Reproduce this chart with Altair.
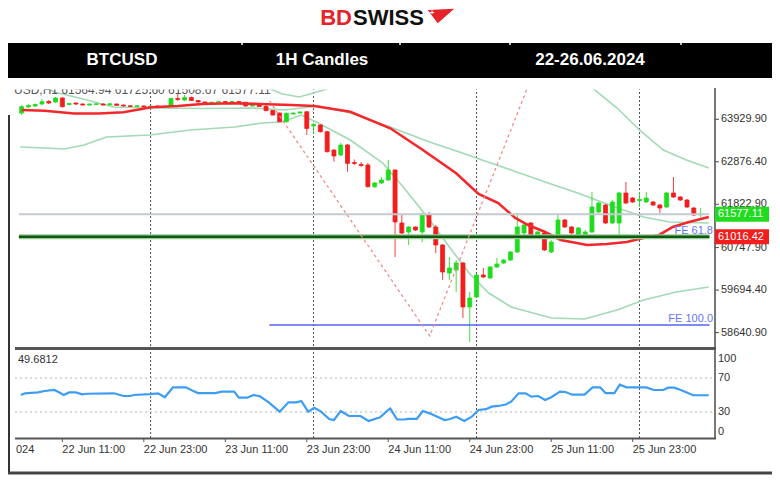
import altair as alt
import pandas as pd

# ---------------- data ----------------
# hour index: 0 = 22 Jun 2024 00:00
hours = list(range(5, 106))
opens = [64086, 64235, 64260, 64309, 64371, 64359, 64458, 64297, 64334, 64309,
         64284, 64297, 64309, 64289, 64309, 64284, 64265, 64247, 64260, 64235,
         64260, 64247, 64247, 64446, 64408, 64470, 64396, 64359, 64334, 64346,
         64371, 64351, 64371, 64346, 64260, 64309, 64247, 64148, 64086, 63870,
         64061, 64086, 64116, 63764, 63789, 63622, 63168, 63045, 63293, 62858,
         62809, 62797, 62258, 62350, 62425, 62673, 61358, 61135, 61259, 61135,
         61556, 61259, 60813, 60118, 60192, 60366, 59275, 59523, 60069, 59994,
         60267, 60366, 60440, 60639, 61110, 61358, 61011, 61110, 60639, 61011,
         61433, 61259, 61060, 61060, 61135, 61631, 61804, 61358, 61358, 62102,
         61978, 61916, 61879, 61879, 61804, 61755, 62102, 62003, 61928, 61730,
         61564.94]
closes = [64242, 64272, 64297, 64366, 64334, 64458, 64242, 64322, 64309, 64284,
          64309, 64314, 64284, 64314, 64277, 64260, 64247, 64265, 64235, 64255,
          64240, 64235, 64446, 64421, 64470, 64396, 64359, 64339, 64351, 64366,
          64351, 64371, 64334, 64260, 64284, 64247, 64143, 64036, 63870, 64078,
          64086, 64111, 63704, 63801, 63622, 63127, 63020, 63293, 62838, 62834,
          62784, 62258, 62350, 62425, 62673, 61383, 61110, 61259, 61184, 61556,
          61259, 60813, 60143, 60242, 60366, 59275, 59498, 60069, 60019, 60267,
          60341, 60440, 60639, 61259, 61308, 60986, 61135, 60689, 60887, 61433,
          61259, 61110, 61234, 61135, 61755, 61854, 61358, 61879, 62102, 61854,
          61879, 61941, 61978, 61804, 61730, 62102, 62003, 61928, 61755, 61556,
          61577.11]
highs = [64284, 64309, 64322, 64433, 64408, 64483, 64483, 64334, 64346, 64322,
         64322, 64330, 64322, 64326, 64320, 64296, 64277, 64277, 64272, 64267,
         64272, 64260, 64458, 64582, 64532, 64495, 64408, 64371, 64364, 64378,
         64383, 64383, 64383, 64371, 64297, 64322, 64284, 64160, 64098, 64098,
         64098, 64123, 64130, 63838, 63801, 63640, 63181, 63343, 63318, 62933,
         62871, 62846, 62375, 62499, 62921, 62685, 61556, 61284, 61271, 61606,
         61631, 61308, 60837, 60515, 60440, 60391, 59647, 60093, 60242, 60292,
         60490, 60465, 60664, 61606, 61358, 61383, 61160, 61135, 60936, 61581,
         61457, 61284, 61259, 61184, 62127, 61879, 61829, 61928, 62127, 62375,
         62003, 62127, 62127, 61904, 61829, 62127, 62499, 62028, 61953, 61755,
         61725.60]
lows = [64036, 64210, 64235, 64284, 64309, 64334, 64222, 64272, 64284, 64272,
        64272, 64285, 64272, 64277, 64265, 64247, 64235, 64235, 64222, 64222,
        64228, 64222, 64235, 64384, 64384, 64384, 64346, 64327, 64322, 64334,
        64339, 64339, 64322, 64247, 64247, 64235, 64136, 64024, 63862, 63850,
        64048, 64073, 63540, 63565, 63603, 63107, 62878, 63020, 62630, 62797,
        62747, 62239, 62226, 62325, 62400, 60515, 61085, 60813, 61160, 60887,
        61234, 60614, 59945, 59945, 59647, 59002, 58407, 59498, 59994, 59970,
        60242, 60341, 60416, 60614, 61036, 60961, 60986, 60664, 60614, 60986,
        61234, 61085, 61036, 61036, 61110, 61606, 61333, 61333, 61060, 61829,
        61854, 61755, 61854, 61780, 61606, 61730, 61978, 61904, 61730, 61532,
        61508.67]

# red moving average
ma_h = [5.0, 8.4, 12.7, 16.4, 20.0, 24.1, 28.0, 31.6, 36.0, 40.1, 44.7, 48.1, 53.4,
        59.3, 64.1, 69.0, 72.3, 75.2, 77.7, 79.6, 82.1, 84.4, 88.3, 91.2, 94.1,
        96.6, 98.9, 100.9, 103.3, 106.2]
ma_p = [64160, 64143, 64074, 64074, 64103, 64227, 64260, 64309, 64327, 64309, 64284,
        64260, 64118, 63707, 63168, 62591, 62077, 61854, 61482, 61308, 61135, 60936,
        60813, 60837, 60887, 60986, 61061, 61259, 61383, 61507]

# bollinger-type bands (light green); upper band is only visible in two pieces
bb_upper1_h = [40.6, 43.3, 45.9, 49.5, 51.3]
bb_upper1_p = [64756, 64565, 64483, 64657, 64756]
bb_upper2_h = [88.6, 89.4, 92.7, 96.0, 99.5, 102.9, 106.2]
bb_upper2_p = [64756, 64657, 64210, 63665, 63168, 62920, 62722]
bb_mid_h = [8.4, 9.8, 13.5, 16.7, 18.6, 24.4, 31.6, 38.9, 43.7, 46.2, 48.7, 53.4,
            59.3, 65.1, 69.9, 72.8, 77.1, 82.1, 86.9, 91.7, 96.6, 100.4, 106.2]
bb_mid_p = [64756, 64607, 64458, 64317, 64235, 64210, 64198, 64210, 64160, 64210,
            64260, 64086, 63739, 63367, 63094, 62920, 62673, 62375, 62102, 61800,
            61507, 61383, 61358]
bb_low_h = [4.8, 8.4, 11.3, 14.2, 17.5, 23.9, 29.8, 36.4, 40.4, 43.3, 46.2, 48.7,
            53.4, 58.2, 61.2, 65.1, 68.0, 70.9, 73.8, 77.1, 83.0, 87.9, 92.7, 96.6,
            101.4, 106.2]
bb_low_p = [63243, 63218, 63193, 63292, 63491, 63541, 63665, 63739, 63838, 63863,
            64036, 63838, 63416, 62846, 62251, 61432, 60763, 60118, 59622, 59275,
            59002, 58977, 59200, 59449, 59647, 59771]

# fibonacci expansion drawing (dotted)
fib_h = [41.5, 65.1, 79.6]
fib_p = [64384, 58556, 64756]

# RSI
rsi_h = [4.9, 5.5, 7.4, 8.4, 9.8, 10.3, 11.2, 12, 13, 13.9, 14.6, 18.6, 20, 21, 21.5,
         23.9, 25.1, 26.1, 27.3, 29.2, 30.2, 31, 33.5, 34.5, 36.3, 37, 38.2, 39.2,
         40.1, 41.4, 43, 44.3, 45.5, 46.2, 47.2, 48.1, 49.1, 50.3, 51, 52, 53.2,
         54.9, 56.1, 57.8, 59, 59.3, 60.3, 61.4, 61.9, 63.2, 64.1, 65.1, 67.3, 68,
         69, 70.2, 71.3, 72.3, 73.4, 74.2, 75.2, 76.3, 77.1, 78.2, 79.2, 80.1, 81.1,
         82.1, 83, 84.3, 85.1, 86.1, 87.9, 89.1, 90.2, 91, 92.3, 93.1, 94.1, 96, 97,
         98.1, 99.5, 100.2, 101.1, 102.1, 103.9, 106.2]
rsi_v = [50, 52, 53, 54.7, 55.9, 54, 50, 53, 53, 50.8, 51.5, 52, 48.8, 48.8, 50,
         51, 52, 47.3, 59, 59, 55, 52.3, 52.3, 54, 54, 46.8, 46.8, 50, 48.5, 41.4,
         30.4, 41.4, 41.4, 43, 30.4, 35, 30.4, 21.8, 20.6, 31.2, 25.3, 25.3, 19.4,
         23.7, 32.4, 34, 21.2, 21.2, 21.8, 21.8, 31.2, 28.4, 20.6, 21.5, 24.5, 19.4,
         24.5, 32.4, 33.3, 36.3, 37.1, 38.8, 42.2, 52, 52, 48, 48.8, 44.1, 47.3,
         53.9, 53.5, 50.4, 50.4, 59, 59, 52.3, 52.3, 62.1, 59, 59, 59, 55.9, 55.9,
         58.6, 58.6, 55.9, 49.7, 49.7]

price_ticks = [63929.90, 62876.40, 61822.90, 60747.90, 59694.40, 58640.90]
price_tick_labels = ["63929.90", "62876.40", "61822.90", "60747.90", "59694.40", "58640.90"]
rsi_ticks = [70, 30]
time_tick_h = [11, 23, 35, 47, 59, 71, 83, 95]
time_tick_labels = ["22 Jun 11:00", "22 Jun 23:00", "23 Jun 11:00", "23 Jun 23:00",
                    "24 Jun 11:00", "24 Jun 23:00", "25 Jun 11:00", "25 Jun 23:00"]
day_sep_h = [24, 48, 72, 96]

last_price = 61577.11
fe618_level = 61016.42
fe100_level = 58828.0
line_start_h = 4.6
fe_start_h = 41.5
line_end_h = 106.3
rsi_last = "49.6812"
ohlc_text = "USD,H1  61564.94  61725.60  61508.67  61577.11"

header_cells = ["BTCUSD", "1H Candles", "22-26.06.2024"]

# ---------------- layout / style ----------------
W, H = 764, 467
PX_H = 6.88
X0 = 50
XS = alt.Scale(domain=[11 - X0 / PX_H, 11 + (W - X0) / PX_H], range=[0, W], nice=False, zero=False)
PS = alt.Scale(domain=[58307.7, 64780.5], range=[338, 77], nice=False, zero=False)
RS = alt.Scale(domain=[0, 100], range=[429.5, 344.5], nice=False, zero=False)

GREEN = "#1fdc1f"
RED = "#f21d1d"
BB = "#a3d9b4"
FONT = "Liberation Sans"
AX = "#4a4a4a"
ONE = pd.DataFrame({"t": [""]})


def X(f):
    return alt.X(f, type="quantitative", scale=XS, axis=None)


def YP(f):
    return alt.Y(f, type="quantitative", scale=PS, axis=None)


def YR(f):
    return alt.Y(f, type="quantitative", scale=RS, axis=None)


def txt(s, x, y, **kw):
    return alt.Chart(pd.DataFrame({"t": [s]})).mark_text(font=FONT, **kw).encode(
        x=alt.value(x), y=alt.value(y), text="t")


def box(x1, x2, y1, y2, **kw):
    return alt.Chart(ONE).mark_rect(**kw).encode(
        x=alt.value(x1), x2=alt.value(x2), y=alt.value(y1), y2=alt.value(y2))


def vline(x, y1, y2, **kw):
    return alt.Chart(ONE).mark_rule(**kw).encode(
        x=alt.value(x), y=alt.value(y1), y2=alt.value(y2))


def hline(x1, x2, y, **kw):
    return alt.Chart(ONE).mark_rule(**kw).encode(
        x=alt.value(x1), x2=alt.value(x2), y=alt.value(y))


layers = []

# ---- logo & header ----
layers.append(txt("BD", 344, 17, align="right", baseline="alphabetic", fontSize=22,
                  fontWeight="bold", color="#e4232b"))
layers.append(txt("SWISS", 345, 17, align="left", baseline="alphabetic", fontSize=22,
                  fontWeight="bold", color="#111111"))
layers.append(alt.Chart(ONE).mark_point(
    shape="M -1 -0.45 L 1 -0.55 L -0.25 0.55 Z", filled=True, size=700,
    color="#e4232b", opacity=1).encode(x=alt.value(433), y=alt.value(8)))
layers.append(txt("+", 424, 5, align="center", baseline="middle", fontSize=8,
                  fontWeight="bold", color="#ffffff"))
layers.append(box(0, W, 35, 70, color="#000000"))
for sx in [234, 392, 502, 673]:
    layers.append(vline(sx, 35, 37, color="#ffffff", strokeWidth=1.5))
for s, cx in zip(header_cells, [114, 314, 582]):
    layers.append(txt(s, cx, 52, align="center", baseline="middle", fontSize=17,
                      fontWeight="bold", color="#ffffff"))

# ---- day separators ----
df_sep = pd.DataFrame({"h": day_sep_h})
layers.append(alt.Chart(df_sep).mark_rule(color="#505050", strokeWidth=1, strokeDash=[2, 2]).encode(
    x=X("h"), y=alt.value(80), y2=alt.value(430)))

# ---- RSI grid ----
df_rg = pd.DataFrame({"v": rsi_ticks})
layers.append(alt.Chart(df_rg).mark_rule(color="#b5b5b5", strokeWidth=1, strokeDash=[2, 3]).encode(
    x=alt.value(7), x2=alt.value(705), y=YR("v")))

# ---- bands ----
bb_rows = []
for name, hh, pp in [("u1", bb_upper1_h, bb_upper1_p), ("u2", bb_upper2_h, bb_upper2_p),
                     ("m", bb_mid_h, bb_mid_p), ("l", bb_low_h, bb_low_p)]:
    for a, b in zip(hh, pp):
        bb_rows.append({"seg": name, "h": a, "p": b})
df_bb = pd.DataFrame(bb_rows)
layers.append(alt.Chart(df_bb).mark_line(color=BB, strokeWidth=1.6).encode(
    x=X("h"), y=YP("p"), detail="seg:N"))

# ---- candles ----
df_c = pd.DataFrame({"h": hours, "o": opens, "hi": highs, "lo": lows, "c": closes})
df_c["dir"] = ["up" if c >= o else "down" for o, c in zip(opens, closes)]
cscale = alt.Scale(domain=["up", "down"], range=[GREEN, RED])
layers.append(alt.Chart(df_c).mark_rule(strokeWidth=1, opacity=0.85).encode(
    x=X("h"), y=YP("lo"), y2="hi", color=alt.Color("dir:N", scale=cscale, legend=None)))
layers.append(alt.Chart(df_c).mark_bar(size=4, strokeWidth=0.8).encode(
    x=X("h"), y=YP("o"), y2="c",
    color=alt.Color("dir:N", scale=cscale, legend=None),
    stroke=alt.Stroke("dir:N", scale=cscale, legend=None)))

# ---- moving average ----
df_ma = pd.DataFrame({"h": ma_h, "p": ma_p})
layers.append(alt.Chart(df_ma).mark_line(color="#f4272b", strokeWidth=2.6).encode(
    x=X("h"), y=YP("p")))

# ---- horizontal objects ----
df_last = pd.DataFrame({"h0": [line_start_h], "h1": [line_end_h], "p": [last_price]})
layers.append(alt.Chart(df_last).mark_rule(color="#c6c9d2", strokeWidth=2).encode(
    x=X("h0"), x2="h1", y=YP("p")))
df_g = pd.DataFrame({"h0": [line_start_h], "h1": [line_end_h], "p": [fe618_level]})
layers.append(alt.Chart(df_g).mark_rule(color="#9bc79b", strokeWidth=5).encode(
    x=X("h0"), x2="h1", y=YP("p")))
layers.append(alt.Chart(df_g).mark_rule(color="#0d5a0d", strokeWidth=2.5).encode(
    x=X("h0"), x2="h1", y=YP("p")))
df_b = pd.DataFrame({"h0": [fe_start_h], "h1": [line_end_h], "p": [fe100_level]})
layers.append(alt.Chart(df_b).mark_rule(color="#5565f2", strokeWidth=1.3).encode(
    x=X("h0"), x2="h1", y=YP("p")))

# ---- fibonacci expansion ----
df_f = pd.DataFrame({"h": fib_h, "p": fib_p, "k": [0, 1, 2]})
layers.append(alt.Chart(df_f).mark_line(color="#f08c8c", strokeWidth=1.3, strokeDash=[3, 3]).encode(
    x=X("h"), y=YP("p"), order="k:Q"))

# ---- top clipped OHLC text ----
layers.append(txt(ohlc_text, 6, 86.3, align="left", baseline="alphabetic", fontSize=12,
                  color="#555555"))
layers.append(box(0, 707, 70, 81.5, color="#ffffff"))

# ---- FE labels ----
df_fel = pd.DataFrame({"p": [fe618_level, fe100_level], "t": ["FE 61.8", "FE 100.0"]})
layers.append(alt.Chart(df_fel).mark_text(font=FONT, fontSize=11, color="#6676f2", align="right",
                                          baseline="bottom", dy=-1).encode(
    x=alt.value(705), y=YP("p"), text="t"))

# ---- price axis ----
layers.append(vline(707, 80, 431, color=AX, strokeWidth=1.5))
df_pt = pd.DataFrame({"p": price_ticks, "t": price_tick_labels})
layers.append(alt.Chart(df_pt).mark_rule(color=AX, strokeWidth=1).encode(
    x=alt.value(707), x2=alt.value(711), y=YP("p")))
layers.append(alt.Chart(df_pt).mark_text(font=FONT, fontSize=11, color="#333333", align="left",
                                         baseline="middle").encode(
    x=alt.value(713), y=YP("p"), text="t"))
df_box = pd.DataFrame({"p": [last_price, fe618_level],
                       "t": [f"{last_price:.2f}", f"{fe618_level:.2f}"],
                       "k": ["last", "fe"]})
layers.append(alt.Chart(df_box).mark_rect(yOffset=-7.5, y2Offset=7.5).encode(
    x=alt.value(707), x2=alt.value(761), y=YP("p"), y2="p",
    color=alt.Color("k:N", scale=alt.Scale(domain=["last", "fe"], range=["#000000", "#1f6a1f"]),
                    legend=None)))
layers.append(alt.Chart(df_box).mark_text(font=FONT, fontSize=11, color="#ffffff", align="left",
                                          baseline="middle").encode(
    x=alt.value(710), y=YP("p"), text="t"))

# ---- panel separator and RSI ----
layers.append(hline(7, 708, 340.5, color="#555555", strokeWidth=3))
df_r = pd.DataFrame({"h": rsi_h, "v": rsi_v})
layers.append(alt.Chart(df_r).mark_line(color="#3d9df5", strokeWidth=2.2).encode(
    x=X("h"), y=YR("v")))
layers.append(txt(rsi_last, 10, 352, align="left", baseline="middle", fontSize=11, color="#333333"))
df_rl = pd.DataFrame({"v": [70, 30], "t": ["70", "30"]})
layers.append(alt.Chart(df_rl).mark_text(font=FONT, fontSize=11, color="#333333", align="left",
                                         baseline="middle").encode(
    x=alt.value(710), y=YR("v"), text="t"))
df_r100 = pd.DataFrame({"v": [100], "t": ["100"]})
layers.append(alt.Chart(df_r100).mark_text(font=FONT, fontSize=11, color="#333333", align="left",
                                           baseline="top", dy=0).encode(
    x=alt.value(710), y=YR("v"), text="t"))
df_r0 = pd.DataFrame({"v": [0], "t": ["0"]})
layers.append(alt.Chart(df_r0).mark_text(font=FONT, fontSize=11, color="#333333", align="left",
                                         baseline="bottom", dy=-1).encode(
    x=alt.value(710), y=YR("v"), text="t"))

# ---- time axis ----
layers.append(hline(7, 708, 430.5, color="#555555", strokeWidth=2))
df_tt = pd.DataFrame({"h": time_tick_h, "t": time_tick_labels})
layers.append(alt.Chart(df_tt).mark_rule(color="#555555", strokeWidth=1).encode(
    x=X("h"), y=alt.value(430), y2=alt.value(434)))
layers.append(alt.Chart(df_tt).mark_text(font=FONT, fontSize=11, color="#333333", align="left",
                                         baseline="middle").encode(
    x=X("h"), y=alt.value(442), text="t"))
layers.append(txt("024", 8, 442, align="left", baseline="middle", fontSize=11, color="#333333"))

# ---- frame ----
layers.append(vline(1, 107, 466, color="#333333", strokeWidth=2))
layers.append(hline(0, W, 465, color="#444444", strokeWidth=3))

chart = alt.layer(*layers).resolve_scale(y="independent").properties(
    width=W, height=H, autosize=alt.AutoSizeParams(type="none"), padding=0,
    background="#ffffff"
).configure_view(strokeWidth=0)

chart.save("out.html", embed_options={"renderer": "svg", "actions": False})
